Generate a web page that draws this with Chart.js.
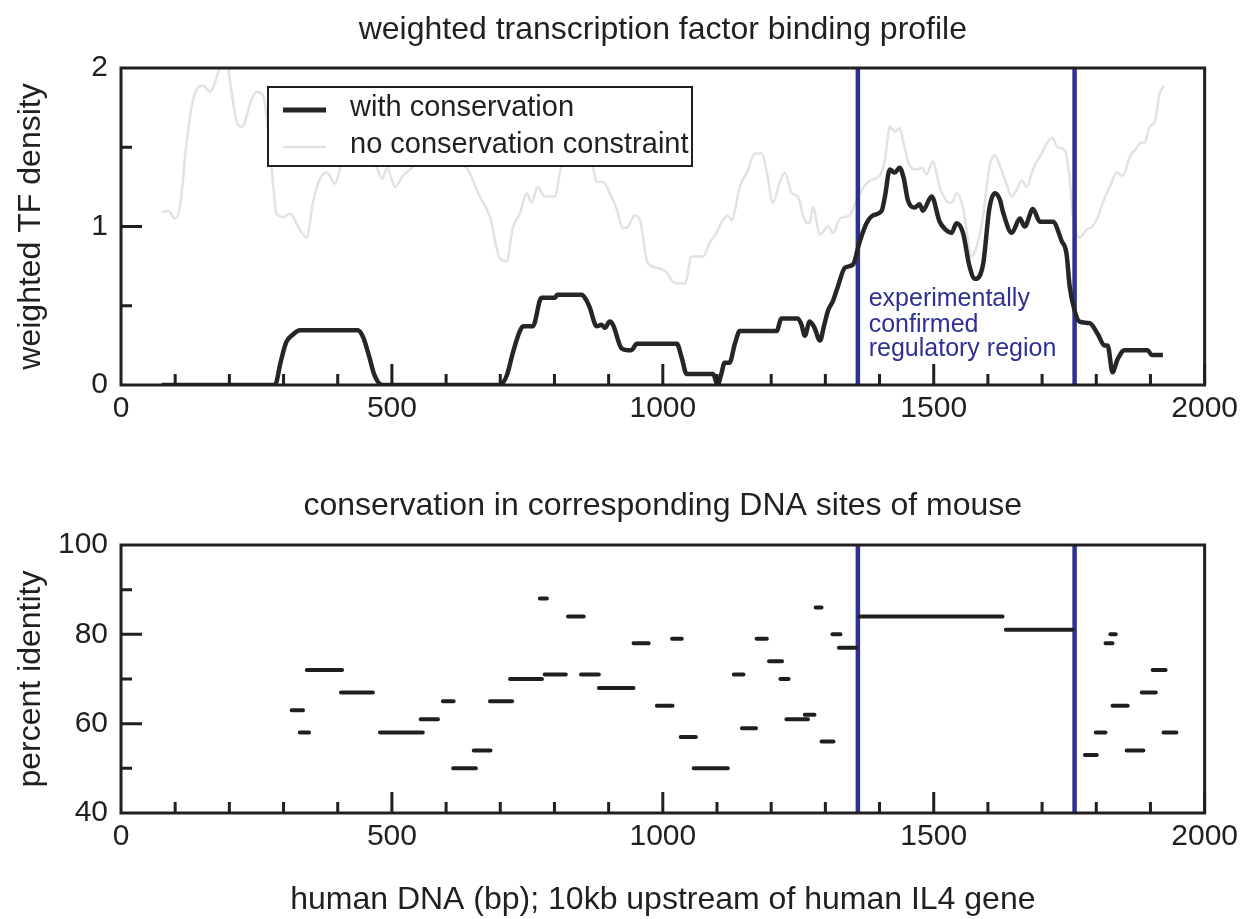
<!DOCTYPE html>
<html>
<head>
<meta charset="utf-8">
<script src="https://cdn.jsdelivr.net/npm/chart.js@4.4.1/dist/chart.umd.min.js"></script>
<style>
  html, body { margin: 0; padding: 0; background: #fff; }
  #wrap { position: relative; width: 1244px; height: 919px; }
  canvas { position: absolute; left: 0; }
  #topChart { top: 0; }
  #bottomChart { top: 450px; }
</style>
</head>
<body>
<div id="wrap">
  <canvas id="topChart" width="1244" height="450"></canvas>
  <canvas id="bottomChart" width="1244" height="469"></canvas>
</div>
<script>
// TF density profile, with conservation (x in bp, y weighted density)
const withConsX = [75, 284, 295, 305, 318, 330, 437, 447, 458, 468, 482, 699, 712, 723, 735, 742, 760, 776, 801, 805,
  850, 858, 865, 878, 887, 893, 902, 908, 924, 935, 942, 952, 1026, 1035, 1044, 1093, 1101, 1108, 1114, 1123,
  1133, 1142, 1210, 1219, 1249, 1256, 1262, 1271, 1280, 1290, 1298, 1305, 1314, 1323, 1336, 1351, 1363, 1376, 1388, 1404,
  1410, 1419, 1428, 1437, 1445, 1452, 1465, 1474, 1480, 1496, 1511, 1522, 1533, 1542, 1554, 1566, 1576, 1591, 1603, 1613,
  1622, 1628, 1644, 1659, 1668, 1683, 1696, 1720, 1736, 1745, 1751, 1760, 1769, 1788, 1803, 1815, 1821, 1830, 1839, 1852,
  1895, 1902, 1923];
const withConsY = [0, 0, 0.15, 0.27, 0.32, 0.345, 0.345, 0.3, 0.18, 0.06, 0, 0, 0.06, 0.2, 0.33, 0.37, 0.37, 0.55, 0.55, 0.57,
  0.57, 0.54, 0.49, 0.37, 0.38, 0.36, 0.40, 0.38, 0.23, 0.22, 0.22, 0.26, 0.26, 0.17, 0.07, 0.07, 0, 0.07, 0.14, 0.14,
  0.26, 0.34, 0.34, 0.42, 0.42, 0.38, 0.31, 0.40, 0.36, 0.28, 0.38, 0.47, 0.53, 0.62, 0.74, 0.76, 0.90, 1.02, 1.07, 1.10,
  1.19, 1.36, 1.34, 1.37, 1.30, 1.17, 1.12, 1.14, 1.10, 1.19, 1.03, 0.98, 0.96, 1.02, 0.96, 0.75, 0.67, 0.76, 1.12, 1.21,
  1.17, 1.09, 0.96, 1.05, 1.00, 1.11, 1.03, 1.03, 0.91, 0.83, 0.62, 0.47, 0.40, 0.39, 0.32, 0.25, 0.25, 0.08, 0.16, 0.22,
  0.22, 0.19, 0.19];

// TF density profile, no conservation constraint
const noConsX = [75, 87, 100, 109, 121, 133, 152, 164, 183, 195, 201, 213, 223, 241, 250, 263, 278, 287, 299, 312,
  330, 343, 354, 367, 380, 395, 408, 428, 450, 472, 482, 491, 506, 520, 537, 560, 600, 638, 662, 681,
  699, 712, 723, 736, 749, 758, 769, 782, 801, 810, 815, 840, 871, 878, 890, 902, 915, 926, 936, 948,
  958, 970, 980, 998, 1007, 1019, 1031, 1041, 1053, 1074, 1087, 1099, 1111, 1120, 1127, 1142, 1155, 1170, 1183, 1192,
  1203, 1216, 1225, 1238, 1249, 1262, 1271, 1277, 1290, 1305, 1314, 1327, 1345, 1358, 1369, 1382, 1400, 1410, 1419, 1428,
  1437, 1446, 1456, 1469, 1478, 1487, 1498, 1511, 1524, 1533, 1542, 1554, 1570, 1579, 1591, 1603, 1613, 1622, 1631, 1644,
  1653, 1662, 1672, 1683, 1699, 1718, 1729, 1742, 1751, 1757, 1769, 1782, 1793, 1803, 1812, 1825, 1838, 1849, 1862, 1871,
  1884, 1889, 1899, 1908, 1917, 1926];
const noConsY = [1.09, 1.10, 1.05, 1.13, 1.53, 1.80, 1.89, 1.85, 2.0, 2.05, 1.92, 1.67, 1.63, 1.80, 1.85, 1.82, 1.37, 1.08, 1.06, 1.08,
  0.98, 0.93, 1.15, 1.30, 1.34, 1.27, 1.40, 1.42, 1.45, 1.37, 1.30, 1.37, 1.25, 1.32, 1.37, 1.45, 1.42, 1.37, 1.19, 1.06,
  0.80, 0.78, 0.99, 1.08, 1.21, 1.15, 1.25, 1.19, 1.19, 1.34, 1.40, 1.50, 1.37, 1.28, 1.28, 1.21, 1.11, 0.99, 1.00, 1.07,
  1.04, 0.79, 0.75, 0.73, 0.71, 0.65, 0.64, 0.64, 0.81, 0.81, 0.90, 0.96, 1.04, 1.07, 1.04, 1.25, 1.34, 1.46, 1.46, 1.34,
  1.15, 1.28, 1.34, 1.21, 1.19, 1.04, 1.02, 1.12, 0.95, 1.00, 0.96, 1.05, 1.07, 1.17, 1.24, 1.29, 1.32, 1.42, 1.63, 1.60,
  1.62, 1.50, 1.38, 1.36, 1.37, 1.33, 1.41, 1.25, 1.16, 1.15, 1.21, 1.12, 0.81, 0.87, 1.06, 1.38, 1.45, 1.38, 1.30, 1.19,
  1.23, 1.29, 1.25, 1.36, 1.46, 1.56, 1.50, 1.48, 1.30, 1.06, 0.93, 0.98, 1.00, 1.06, 1.15, 1.25, 1.34, 1.32, 1.44, 1.48,
  1.53, 1.53, 1.63, 1.66, 1.84, 1.89];

// conserved blocks in mouse: start bp, end bp, percent identity
const segStart = [315, 330, 343, 406, 478, 553, 594, 613, 636, 651, 681, 718, 773, 782, 825, 849, 882, 946, 989, 1017,
  1033, 1057, 1131, 1146, 1173, 1196, 1217, 1228, 1262, 1282, 1293, 1313, 1325, 1363, 1633, 1779, 1799, 1817, 1826, 1830,
  1856, 1884, 1904, 1924];
const segEnd = [336, 347, 408, 465, 557, 585, 614, 634, 655, 682, 722, 777, 786, 821, 854, 882, 946, 974, 1018, 1035,
  1061, 1120, 1149, 1172, 1192, 1220, 1232, 1268, 1280, 1293, 1315, 1328, 1357, 1627, 1756, 1801, 1817, 1830, 1836, 1858,
  1887, 1910, 1928, 1948];
const segPct = [63, 58, 72, 67, 58, 61, 65, 50, 50, 54, 65, 70, 88, 71, 84, 71, 68, 78, 64, 79,
  57, 50, 71, 59, 79, 74, 70, 61, 62, 86, 56, 80, 77, 84, 81, 53, 58, 78, 80, 64,
  54, 67, 72, 58];

// experimentally confirmed region boundaries (bp)
const regionBounds = [1360, 1760];

// axis ticks
const xTickMajor = [500, 1000, 1500, 2000];
const xTickMinor = [100, 200, 300, 400, 600, 700, 800, 900, 1100, 1200, 1300, 1400, 1600, 1700, 1800, 1900];
const topYMajor = [1];
const topYMinor = [0.5, 1.5];
const botYMajor = [60, 80];
const botYMinor = [50, 70, 90];

const annoLines = ['experimentally', 'confirmed', 'regulatory region'];
const annoX = 1380;
const annoY = [0.54, 0.38, 0.225];

const FONT = '"Liberation Sans", Arial, Helvetica, sans-serif';
const INK = '#231f20';
const BLUE = '#2e3192';

function toPoints(xs, ys) {
  return xs.map((x, i) => ({ x: x, y: ys[i] }));
}

function segmentPoints() {
  const pts = [];
  segStart.forEach((s, i) => {
    pts.push({ x: s, y: segPct[i] });
    pts.push({ x: segEnd[i], y: segPct[i] });
    pts.push({ x: segEnd[i], y: null });
  });
  return pts;
}

function boundLine(x, lo, hi) {
  return [{ x: x, y: lo }, { x: x, y: hi }];
}

// frame + inward tick marks
const framePlugin = {
  id: 'frameTicks',
  afterDraw(chart, args, opts) {
    const ctx = chart.ctx;
    const a = chart.chartArea;
    const xs = chart.scales.x, ys = chart.scales.y;
    ctx.save();
    ctx.strokeStyle = INK;
    ctx.lineWidth = 3;
    ctx.lineCap = 'butt';
    ctx.beginPath();
    opts.xMajor.forEach(v => {
      const p = xs.getPixelForValue(v);
      ctx.moveTo(p, a.bottom); ctx.lineTo(p, a.bottom - 21);
    });
    opts.xMinor.forEach(v => {
      const p = xs.getPixelForValue(v);
      ctx.moveTo(p, a.bottom); ctx.lineTo(p, a.bottom - 11);
    });
    opts.yMajor.forEach(v => {
      const p = ys.getPixelForValue(v);
      ctx.moveTo(a.left, p); ctx.lineTo(a.left + 21, p);
    });
    opts.yMinor.forEach(v => {
      const p = ys.getPixelForValue(v);
      ctx.moveTo(a.left, p); ctx.lineTo(a.left + 11, p);
    });
    ctx.stroke();
    ctx.strokeRect(a.left, a.top, a.right - a.left, a.bottom - a.top);
    ctx.restore();
  }
};

// boxed legend inside the top plot + blue annotation
const topExtras = {
  id: 'topExtras',
  afterDraw(chart) {
    const ctx = chart.ctx;
    const xs = chart.scales.x, ys = chart.scales.y;
    ctx.save();
    // annotation
    ctx.fillStyle = BLUE;
    ctx.font = '25px ' + FONT;
    ctx.textAlign = 'left';
    ctx.textBaseline = 'middle';
    annoLines.forEach((t, i) => ctx.fillText(t, xs.getPixelForValue(annoX), ys.getPixelForValue(annoY[i])));
    // legend
    const ds = chart.data.datasets;
    ctx.fillStyle = '#fff';
    ctx.fillRect(268, 87, 424, 79);
    ctx.strokeStyle = INK;
    ctx.lineWidth = 2;
    ctx.strokeRect(268, 87, 424, 79);
    const rows = [108, 145];
    [0, 1].forEach((k, i) => {
      ctx.strokeStyle = ds[k].borderColor;
      ctx.lineWidth = k === 0 ? 5 : 2.5;
      ctx.beginPath();
      ctx.moveTo(283, rows[i] + 2);
      ctx.lineTo(326, rows[i] + 2);
      ctx.stroke();
      ctx.fillStyle = INK;
      ctx.font = '29px ' + FONT;
      ctx.fillText(ds[k].label, 350, rows[i]);
    });
    ctx.restore();
  }
};

Chart.register(framePlugin);

function tickFont() {
  return { family: FONT, size: 30 };
}

function plainLabel(v) {
  return String(v);
}

function titleFont() {
  return { family: FONT, size: 32, weight: 'normal', lineHeight: 1.2 };
}

new Chart(document.getElementById('topChart'), {
  type: 'line',
  data: {
    datasets: [
      {
        label: 'with conservation',
        data: toPoints(withConsX, withConsY),
        borderColor: '#262626',
        borderWidth: 4.5,
        pointRadius: 0,
        cubicInterpolationMode: 'monotone',
        order: 1
      },
      {
        label: 'no conservation constraint',
        data: toPoints(noConsX, noConsY),
        borderColor: '#e2e2e2',
        borderWidth: 2.5,
        pointRadius: 0,
        cubicInterpolationMode: 'monotone',
        order: 3
      },
      {
        label: 'region start',
        data: boundLine(regionBounds[0], 0, 2),
        borderColor: BLUE,
        borderWidth: 4.5,
        pointRadius: 0,
        order: 2
      },
      {
        label: 'region end',
        data: boundLine(regionBounds[1], 0, 2),
        borderColor: BLUE,
        borderWidth: 4.5,
        pointRadius: 0,
        order: 2
      }
    ]
  },
  options: {
    responsive: false,
    animation: false,
    layout: { padding: { left: 0, right: 36, top: 0, bottom: 0 } },
    plugins: {
      legend: { display: false },
      tooltip: { enabled: false },
      title: {
        display: true,
        fullSize: false,
        text: 'weighted transcription factor binding profile',
        color: INK,
        font: titleFont(),
        padding: { top: 11, bottom: 18.6 }
      },
      frameTicks: { xMajor: xTickMajor, xMinor: xTickMinor, yMajor: topYMajor, yMinor: topYMinor }
    },
    scales: {
      x: {
        type: 'linear', min: 0, max: 2000,
        grid: { display: false, drawTicks: false },
        border: { display: false },
        ticks: { stepSize: 500, color: INK, font: tickFont(), padding: 6, maxRotation: 0, callback: plainLabel },
        afterFit: s => { s.height = 65; }
      },
      y: {
        type: 'linear', min: 0, max: 2,
        grid: { display: false, drawTicks: false },
        border: { display: false },
        ticks: { stepSize: 1, color: INK, font: tickFont(), padding: 13, callback: plainLabel },
        title: {
          display: true, text: 'weighted TF density', color: INK,
          font: titleFont(),
          padding: { top: 11.8, bottom: 0 }
        },
        afterFit: s => { s.width = 121; }
      }
    }
  },
  plugins: [topExtras]
});

new Chart(document.getElementById('bottomChart'), {
  type: 'line',
  data: {
    datasets: [
      {
        label: 'percent identity',
        data: segmentPoints(),
        borderColor: '#1f1f1f',
        borderWidth: 4,
        borderCapStyle: 'round',
        pointRadius: 0,
        spanGaps: false,
        order: 1
      },
      {
        label: 'region start',
        data: boundLine(regionBounds[0], 40, 100),
        borderColor: BLUE,
        borderWidth: 4.5,
        pointRadius: 0,
        order: 2
      },
      {
        label: 'region end',
        data: boundLine(regionBounds[1], 40, 100),
        borderColor: BLUE,
        borderWidth: 4.5,
        pointRadius: 0,
        order: 2
      }
    ]
  },
  options: {
    responsive: false,
    animation: false,
    layout: { padding: { left: 0, right: 36, top: 0, bottom: 0 } },
    plugins: {
      legend: { display: false },
      tooltip: { enabled: false },
      title: {
        display: true,
        fullSize: false,
        text: 'conservation in corresponding DNA sites of mouse',
        color: INK,
        font: titleFont(),
        padding: { top: 36.8, bottom: 19.8 }
      },
      frameTicks: { xMajor: xTickMajor, xMinor: xTickMinor, yMajor: botYMajor, yMinor: botYMinor }
    },
    scales: {
      x: {
        type: 'linear', min: 0, max: 2000,
        grid: { display: false, drawTicks: false },
        border: { display: false },
        ticks: { stepSize: 500, color: INK, font: tickFont(), padding: 6, maxRotation: 0, callback: plainLabel },
        title: {
          display: true, text: 'human DNA (bp); 10kb upstream of human IL4 gene', color: INK,
          font: titleFont(),
          padding: { top: 0, bottom: 0 }
        },
        afterFit: s => { s.height = 106; }
      },
      y: {
        type: 'linear', min: 40, max: 100,
        grid: { display: false, drawTicks: false },
        border: { display: false },
        ticks: { stepSize: 20, color: INK, font: tickFont(), padding: 13, callback: plainLabel },
        title: {
          display: true, text: 'percent identity', color: INK,
          font: titleFont(),
          padding: { top: 11.8, bottom: 0 }
        },
        afterFit: s => { s.width = 121; }
      }
    }
  }
});
</script>
</body>
</html>
